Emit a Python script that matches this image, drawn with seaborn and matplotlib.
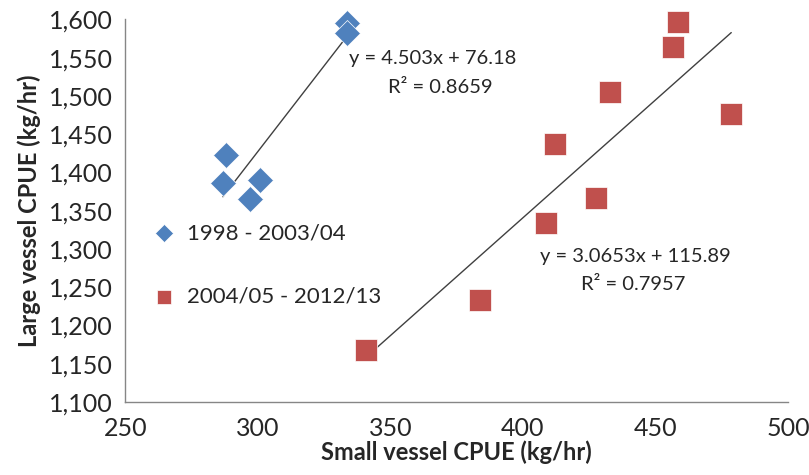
import pandas as pd
import matplotlib
matplotlib.use('Agg')
import matplotlib.pyplot as plt
import seaborn as sns

# Small vs large vessel CPUE, two periods
early_label = '1998 - 2003/04'
early_small = [287.8, 286.8, 297.0, 300.8, 333.5, 333.5]
early_large = [1423, 1386, 1365, 1390, 1595, 1582]

late_label = '2004/05 - 2012/13'
late_small = [340.7, 383.7, 408.6, 412.0, 427.7, 432.7, 456.6, 458.6, 478.6]
late_large = [1168, 1233, 1334, 1437, 1366, 1505, 1564, 1597, 1476]

early_eq = ['y = 4.503x + 76.18', 'R² = 0.8659']
late_eq = ['y = 3.0653x + 115.89', 'R² = 0.7957']

x_ticks = [250, 300, 350, 400, 450, 500]
y_ticks = list(range(1100, 1601, 50))

df_early = pd.DataFrame({'small': early_small, 'large': early_large})
df_late = pd.DataFrame({'small': late_small, 'large': late_large})

sns.set_style('white')
plt.rcParams['font.family'] = ['Lato', 'DejaVu Sans']

blue = '#4F81BD'
red = '#C0504D'
axis_grey = '#868686'
text_col = '#262626'

fig = plt.figure(figsize=(8.09, 4.75), dpi=100)
ax = fig.add_axes([0.155, 0.154, 0.819, 0.805])

# trend lines (linear fit over the data range)
sns.regplot(data=df_early, x='small', y='large', scatter=False, ci=None,
            truncate=True, color='#404040', line_kws={'lw': 1}, ax=ax)
sns.regplot(data=df_late, x='small', y='large', scatter=False, ci=None,
            truncate=True, color='#404040', line_kws={'lw': 1}, ax=ax)

sns.scatterplot(data=df_early, x='small', y='large', marker='D', s=175,
                color=blue, edgecolor='white', linewidth=0.5,
                label=early_label, ax=ax, zorder=3, clip_on=False)
sns.scatterplot(data=df_late, x='small', y='large', marker='s', s=235,
                color=red, edgecolor='white', linewidth=0.5,
                label=late_label, ax=ax, zorder=3, clip_on=False)

ax.set_xlim(250, 500)
ax.set_ylim(1100, 1600)
ax.set_xticks(x_ticks)
ax.set_yticks(y_ticks)
ax.set_yticklabels([f'{v:,}' for v in y_ticks])

for side in ['top', 'right']:
    ax.spines[side].set_visible(False)
for side in ['left', 'bottom']:
    ax.spines[side].set_color(axis_grey)
    ax.spines[side].set_linewidth(1)
ax.tick_params(axis='both', direction='out', length=5, width=1,
               color=axis_grey, labelsize=18, labelcolor=text_col)
ax.tick_params(axis='x', pad=6)
ax.tick_params(axis='y', pad=4)

ax.set_xlabel('Small vessel CPUE (kg/hr)', fontsize=17, fontweight='bold',
              color=text_col, labelpad=0)
ax.set_ylabel('Large vessel CPUE (kg/hr)', fontsize=17, fontweight='bold',
              color=text_col, labelpad=6)

# equation labels
ax.text(334.5, 1549, early_eq[0], fontsize=14.5, color=text_col, va='center', ha='left')
ax.text(349, 1511, early_eq[1], fontsize=14.5, color=text_col, va='center', ha='left')
ax.text(406.3, 1290, late_eq[0], fontsize=14.5, color=text_col, va='center', ha='left')
ax.text(422, 1253, late_eq[1], fontsize=14.5, color=text_col, va='center', ha='left')

ax.legend(loc='upper left', bbox_to_anchor=(-0.006, 0.52), frameon=False,
          fontsize=16, labelspacing=1.95, handletextpad=0.05, markerscale=0.7,
          labelcolor=text_col)

plt.savefig('out.png', dpi=100)
